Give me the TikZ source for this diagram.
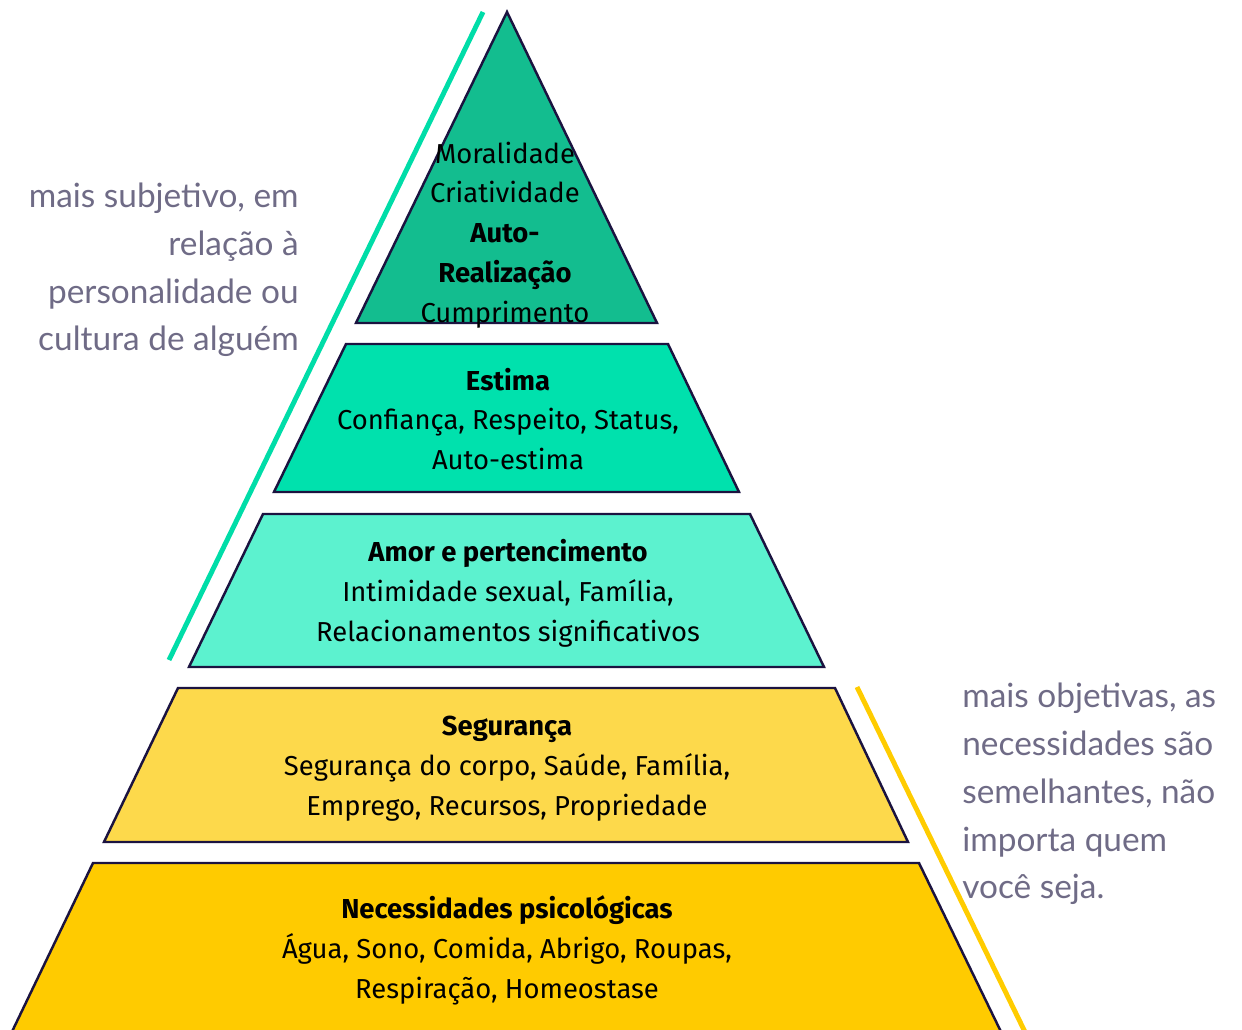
\documentclass[tikz,border=0pt]{standalone}
\usepackage{fontspec}
\setmainfont{Fira Sans}
\newfontfamily\notefont{Lato}
\usepackage{tikz}
\usetikzlibrary{positioning}
\definecolor{pyrLine}{HTML}{1B1340}
\definecolor{pyrTop}{HTML}{13BD8F}
\definecolor{pyrEsteem}{HTML}{00E1AD}
\definecolor{pyrLove}{HTML}{5CF2CF}
\definecolor{pyrSafety}{HTML}{FDD94B}
\definecolor{pyrBase}{HTML}{FFCB00}
\definecolor{noteGray}{HTML}{6F6B86}
\definecolor{markGreen}{HTML}{00DDA8}
\definecolor{markYellow}{HTML}{FFCC00}

\begin{document}
\begin{tikzpicture}[
  x=0.02cm,y=-0.02cm,
  layer/.style={draw=pyrLine,line width=1.4pt,line join=miter},
  lvltext/.style={align=center,font=\fontsize{15.6}{22.7}\selectfont,text=black,inner sep=0pt},
  notetext/.style={font=\notefont\fontsize{19}{27.2}\selectfont,text=noteGray,inner sep=0pt},
  marker/.style={line width=2.8pt}
]
\useasboundingbox (0,0) rectangle (1242,1030);
\clip (0,0) rectangle (1242,1030);

% pyramid layers
\filldraw[layer,fill=pyrTop] (507,12) -- (657,323) -- (356,323) -- cycle;
\filldraw[layer,fill=pyrEsteem] (346,344) -- (668,344) -- (739,492) -- (274,492) -- cycle;
\filldraw[layer,fill=pyrLove] (263,514) -- (750,514) -- (824,667) -- (189,667) -- cycle;
\filldraw[layer,fill=pyrSafety] (178,688) -- (835,688) -- (908,842) -- (104,842) -- cycle;
\filldraw[layer,fill=pyrBase] (93,863) -- (919,863) -- (1005,1040) -- (8,1040) -- cycle;

% side markers
\coordinate (gTop) at (483,12);
\coordinate (gBot) at (169,660);
\coordinate (yTop) at (857,687);
\coordinate (yBot) at (1025,1032);
\draw[marker,markGreen] (gTop) -- (gBot);
\draw[marker,markYellow] (yTop) -- (yBot);

% level texts
\node[lvltext] (top) at (505,235) {Moralidade\\Criatividade\\\textbf{Auto-}\\\textbf{Realização}\\Cumprimento};
\node[lvltext] (esteem) at (508,419) {\textbf{Estima}\\Confiança, Respeito, Status,\\Auto-estima};
\node[lvltext] (love) at (508,593) {\textbf{Amor e pertencimento}\\Intimidade sexual, Família,\\Relacionamentos significativos};
\node[lvltext] (safety) at (507,769) {\textbf{Segurança}\\Segurança do corpo, Saúde, Família,\\Emprego, Recursos, Propriedade};
\node[lvltext] (base) at (507,950) {\textbf{Necessidades psicológicas}\\Água, Sono, Comida, Abrigo, Roupas,\\Respiração, Homeostase};

% notes
\node[notetext,align=right,anchor=east] (subj) at (299,270) {mais subjetivo, em\\relação à\\personalidade ou\\cultura de alguém};
\node[notetext,align=left,anchor=west] (obj) at (962,794) {mais objetivas, as\\necessidades são\\semelhantes, não\\importa quem\\você seja.};
\end{tikzpicture}
\end{document}
